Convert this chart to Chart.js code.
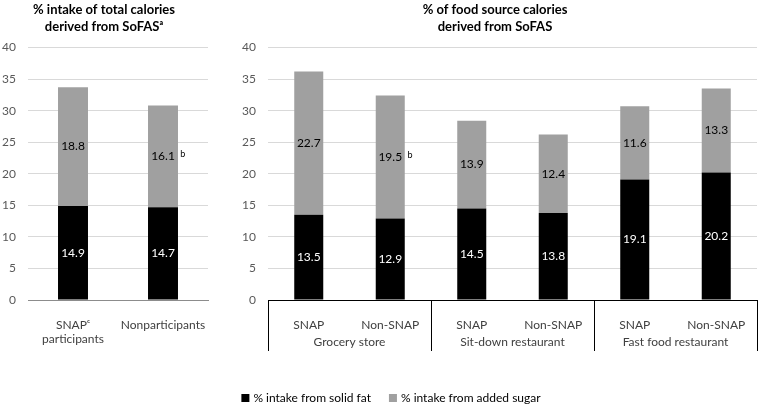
<!DOCTYPE html>
<html>
<head>
<meta charset="utf-8">
<script src="https://cdn.jsdelivr.net/npm/chart.js@4.4.0/dist/chart.umd.min.js"></script>
<style>
  body { margin: 0; background: #fff; }
  #wrap { position: relative; width: 763px; height: 410px; }
  #left { position: absolute; left: 0; top: 0; }
  #right { position: absolute; left: 233px; top: 0; }
</style>
</head>
<body>
<div id="wrap">
  <canvas id="left" width="220" height="410"></canvas>
  <canvas id="right" width="530" height="410"></canvas>
</div>
<script>
// left panel: share of total calories
const leftLabels = [['SNAPᶜ', 'participants'], 'Nonparticipants'];
const leftSolidFat = [14.9, 14.7];
const leftAddedSugar = [18.8, 16.1];
const leftNotes = ['', 'b'];

// right panel: share of food source calories
const rightLabels = ['SNAP', 'Non-SNAP', 'SNAP', 'Non-SNAP', 'SNAP', 'Non-SNAP'];
const rightGroups = ['Grocery store', 'Sit-down restaurant', 'Fast food restaurant'];
const rightSolidFat = [13.5, 12.9, 14.5, 13.8, 19.1, 20.2];
const rightAddedSugar = [22.7, 19.5, 13.9, 12.4, 11.6, 13.3];
const rightNotes = ['', 'b', '', '', '', ''];

const seriesNames = ['% intake from solid fat', '% intake from added sugar'];
const yMin = 0, yMax = 40, yStep = 5;

const FONT = 'Lato';
const fatColor = '#000000';
const sugarColor = '#a0a0a0';

// values written inside each bar segment
const barLabels = {
  id: 'barLabels',
  afterDatasetsDraw(chart) {
    const ctx = chart.ctx;
    ctx.save();
    ctx.textAlign = 'center';
    ctx.textBaseline = 'middle';
    chart.data.datasets.forEach((ds, i) => {
      chart.getDatasetMeta(i).data.forEach((bar, j) => {
        const y = (bar.y + bar.base) / 2;
        ctx.font = '12px ' + FONT;
        ctx.fillStyle = i === 0 ? '#ffffff' : '#000000';
        const txt = ds.data[j].toFixed(1);
        ctx.fillText(txt, bar.x, y);
        if (ds.notes && ds.notes[j]) {
          const w = ctx.measureText(txt).width;
          ctx.font = '9px ' + FONT;
          ctx.fillStyle = '#000000';
          ctx.fillText(ds.notes[j], bar.x + w / 2 + 8, y - 2);
        }
      });
    });
    ctx.restore();
  }
};

// boxes and group names under the right x axis
const groupBoxes = {
  id: 'groupBoxes',
  afterDraw(chart) {
    const ctx = chart.ctx;
    const x = chart.scales.x;
    const bottom = chart.chartArea.bottom;
    const step = x.getPixelForValue(1) - x.getPixelForValue(0);
    ctx.save();
    ctx.strokeStyle = '#000';
    ctx.lineWidth = 1;
    for (let k = 0; k <= rightGroups.length; k++) {
      const bx = Math.round(x.getPixelForValue(2 * k) - step / 2) + 0.5;
      ctx.beginPath();
      ctx.moveTo(bx, bottom);
      ctx.lineTo(bx, bottom + 51);
      ctx.stroke();
    }
    ctx.font = '12px ' + FONT;
    ctx.fillStyle = '#404040';
    ctx.textAlign = 'center';
    ctx.textBaseline = 'middle';
    rightGroups.forEach((g, k) => {
      const cx = (x.getPixelForValue(2 * k) + x.getPixelForValue(2 * k + 1)) / 2;
      ctx.fillText(g, cx, bottom + 42);
    });
    ctx.restore();
  }
};

// legend centred under the whole figure
const bottomLegend = {
  id: 'bottomLegend',
  afterDraw(chart) {
    const ctx = chart.ctx;
    ctx.save();
    ctx.font = '12px ' + FONT;
    ctx.textBaseline = 'middle';
    const box = 8, gap = 4, between = 18;
    const items = chart.data.datasets.map(ds => ({ text: ds.label, color: ds.backgroundColor }));
    let total = 0;
    items.forEach((it, i) => {
      it.w = box + gap + ctx.measureText(it.text).width;
      total += it.w + (i ? between : 0);
    });
    let x = 391 - 233 - total / 2;
    const y = 398;
    items.forEach(it => {
      ctx.fillStyle = it.color;
      ctx.fillRect(x, y - box / 2, box, box);
      ctx.fillStyle = '#000';
      ctx.fillText(it.text, x + box + gap, y);
      x += it.w + between;
    });
    ctx.restore();
  }
};

function makeOptions(title, yWidth, rightPad, xBorder) {
  return {
    responsive: false,
    animation: false,
    layout: { padding: { top: 0, right: rightPad, bottom: 0, left: 0 } },
    plugins: {
      legend: { display: false },
      tooltip: { enabled: false },
      title: {
        display: true,
        text: title,
        color: '#000',
        font: { family: FONT, size: 13, weight: 'bold', lineHeight: 1.25 },
        padding: { top: 2, bottom: 13 }
      }
    },
    scales: {
      x: {
        stacked: true,
        grid: { display: false },
        border: { color: xBorder },
        ticks: { color: '#404040', font: { family: FONT, size: 12 }, padding: 10, maxRotation: 0, autoSkip: false },
        afterFit(s) { s.height = 110; }
      },
      y: {
        stacked: true,
        min: yMin,
        max: yMax,
        grid: { color: '#d9d9d9', drawTicks: false },
        border: { display: false },
        ticks: { stepSize: yStep, color: '#595959', font: { family: FONT, size: 12 }, padding: 12 },
        afterFit(s) { s.width = yWidth; }
      }
    }
  };
}

new Chart(document.getElementById('left'), {
  type: 'bar',
  data: {
    labels: leftLabels,
    datasets: [
      { label: seriesNames[0], data: leftSolidFat, backgroundColor: fatColor, categoryPercentage: 1, barPercentage: 0.333 },
      { label: seriesNames[1], data: leftAddedSugar, notes: leftNotes, backgroundColor: sugarColor, categoryPercentage: 1, barPercentage: 0.333 }
    ]
  },
  options: makeOptions(['% intake of total calories', 'derived from SoFASᵃ'], 28, 12, '#8c8c8c'),
  plugins: [barLabels]
});

new Chart(document.getElementById('right'), {
  type: 'bar',
  data: {
    labels: rightLabels,
    datasets: [
      { label: seriesNames[0], data: rightSolidFat, backgroundColor: fatColor, categoryPercentage: 1, barPercentage: 0.356 },
      { label: seriesNames[1], data: rightAddedSugar, notes: rightNotes, backgroundColor: sugarColor, categoryPercentage: 1, barPercentage: 0.356 }
    ]
  },
  options: makeOptions(['% of food source calories', 'derived from SoFAS'], 35, 6, '#000'),
  plugins: [barLabels, groupBoxes, bottomLegend]
});
</script>
</body>
</html>
